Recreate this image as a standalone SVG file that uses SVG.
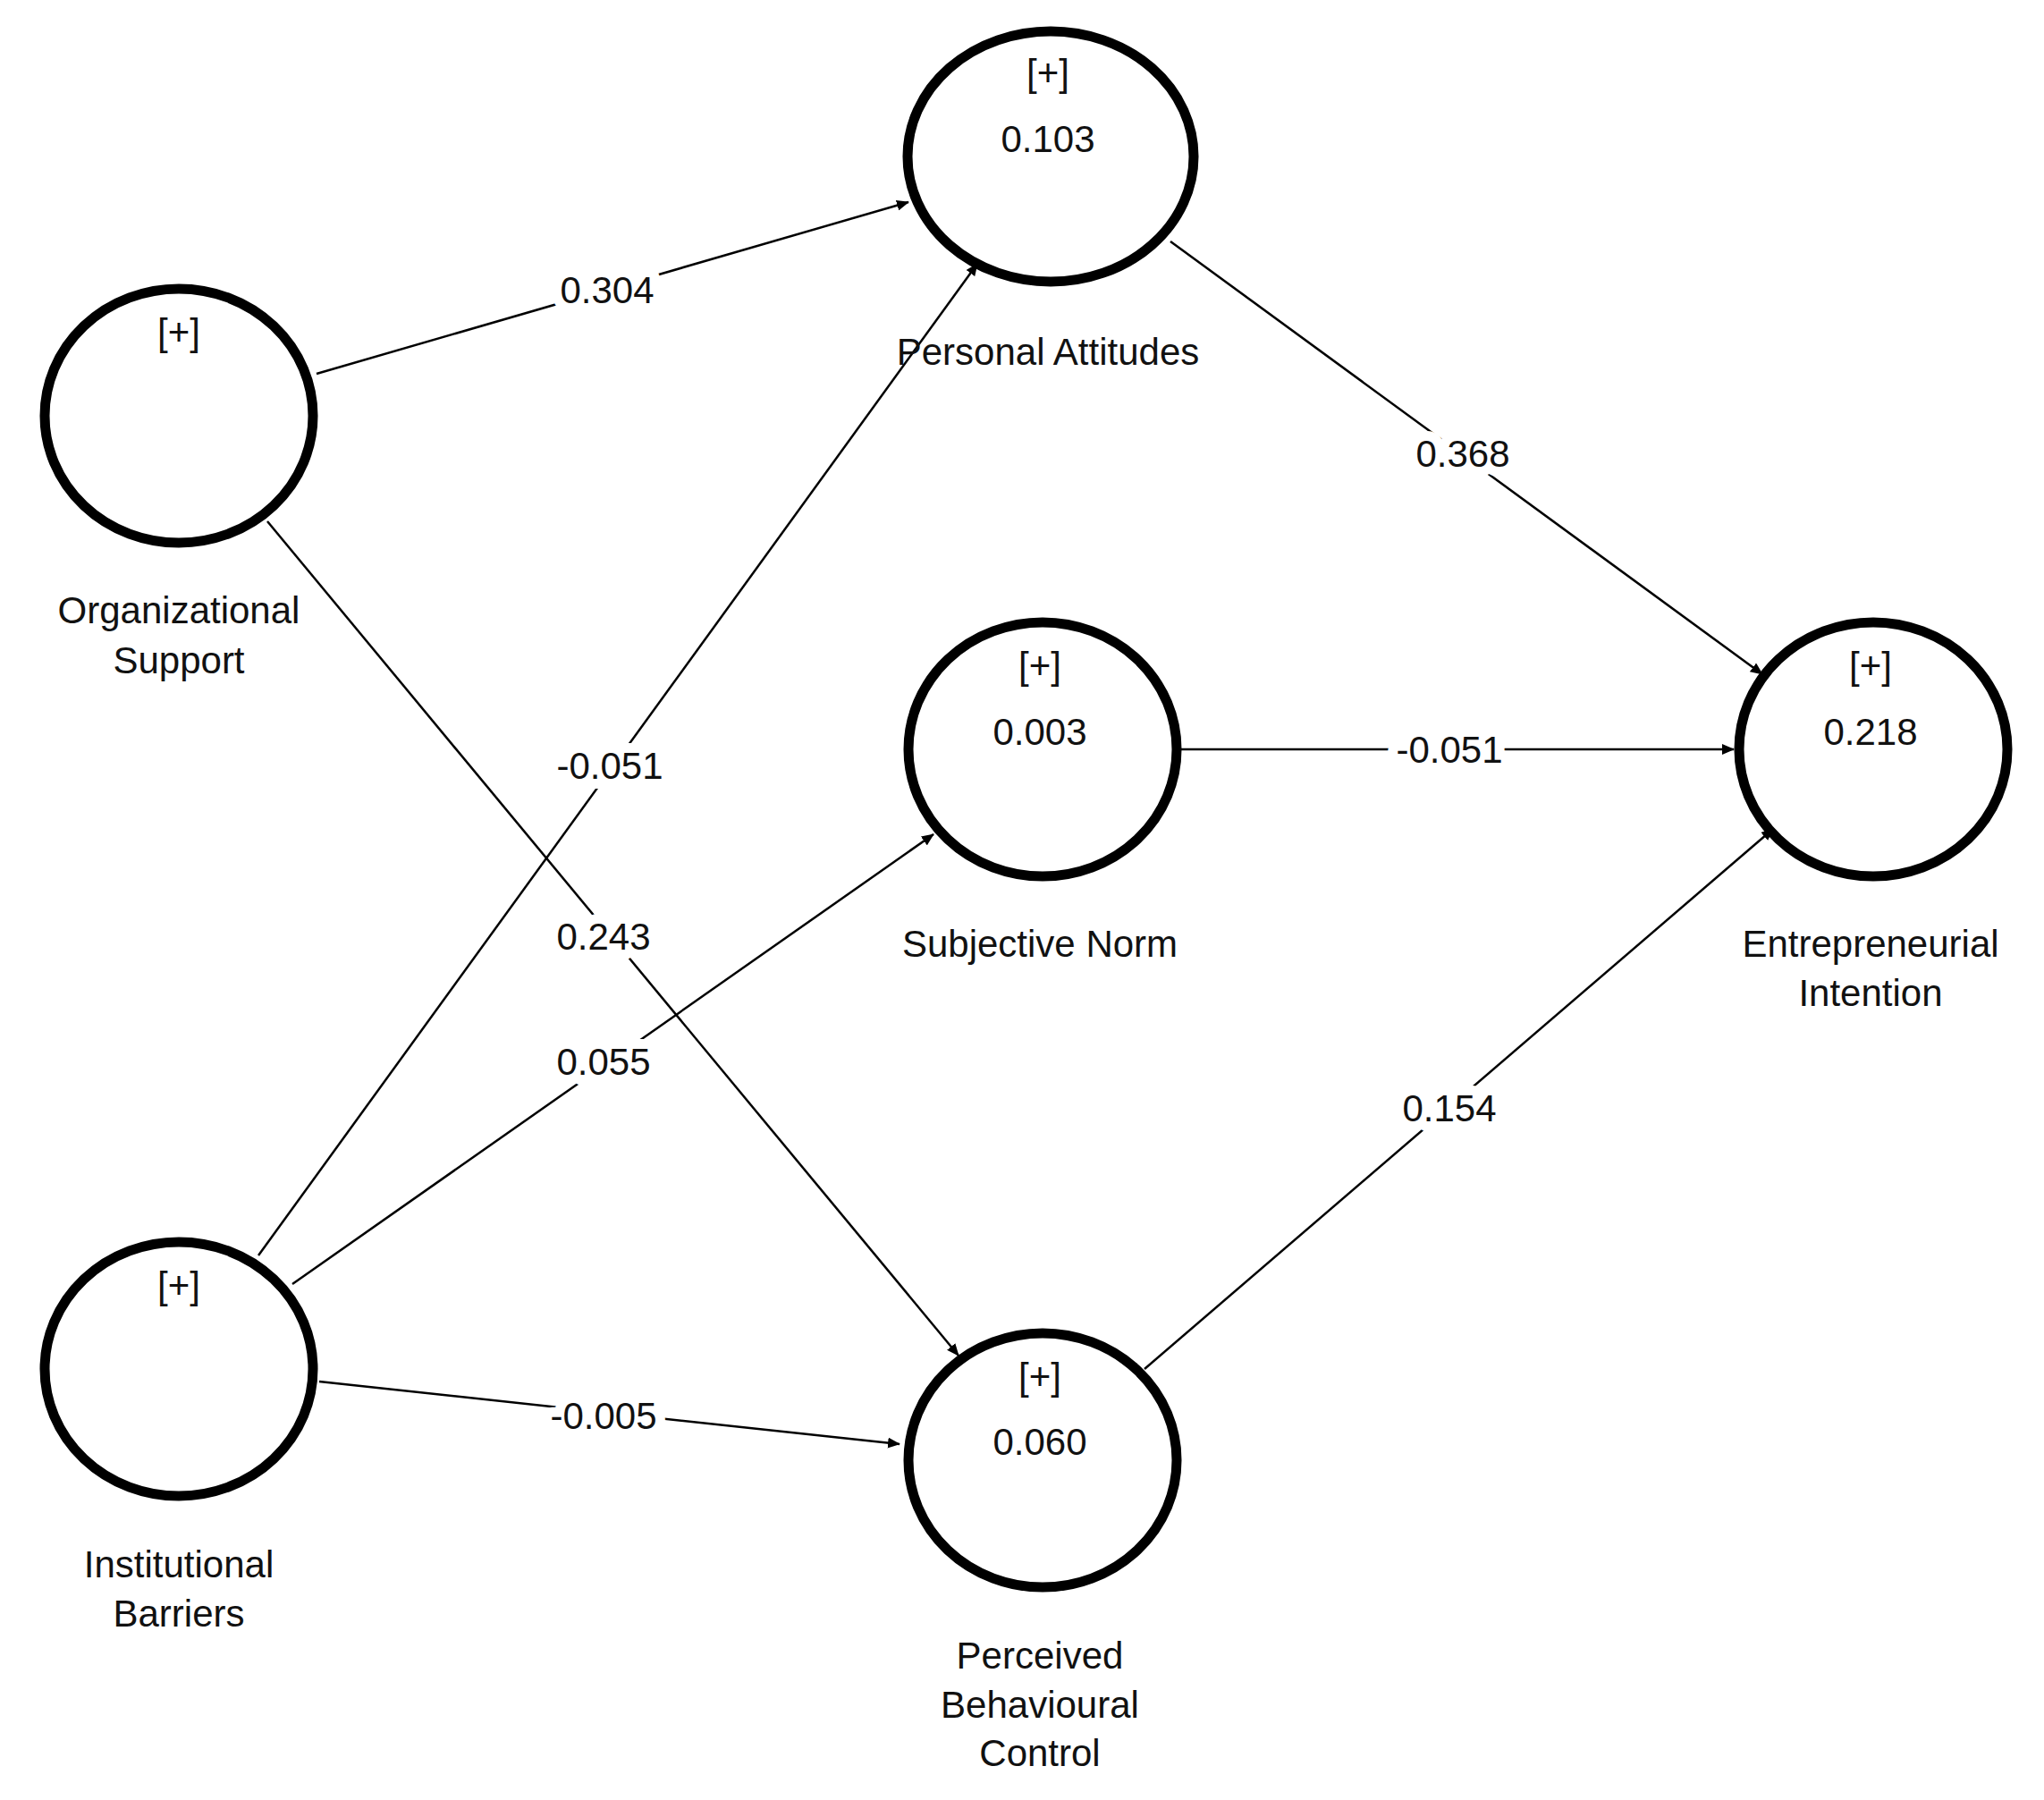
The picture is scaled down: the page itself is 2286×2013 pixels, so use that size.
<svg xmlns="http://www.w3.org/2000/svg" width="2286" height="2013" viewBox="0 0 2286 2013">
<defs>
<marker id="ah" markerWidth="14" markerHeight="12" refX="13" refY="6" orient="auto" markerUnits="userSpaceOnUse" viewBox="0 0 14 12"><path d="M0,0 L14,6 L0,12 z" fill="#000"/></marker>
<style>
text{font-family:"Liberation Sans",Arial,sans-serif;font-size:42px;fill:#111;text-anchor:middle}
.n{fill:#fff;stroke:#000;stroke-width:11}
.e{stroke:#000;stroke-width:2.5;fill:none;marker-end:url(#ah)}
.lb{paint-order:stroke;stroke:#fff;stroke-width:22px;stroke-linejoin:round}
</style>
</defs>
<rect width="2286" height="2013" fill="#fff"/>
<g id="connectors">
<line class="e" x1="354" y1="418" x2="1016" y2="226" style="stroke-width:2.5"/>
<line class="e" x1="299" y1="583" x2="1072" y2="1516"/>
<line class="e" x1="289" y1="1404" x2="1093" y2="295"/>
<line class="e" x1="327" y1="1436" x2="1044" y2="933"/>
<line class="e" x1="357" y1="1545" x2="1006" y2="1615"/>
<line class="e" x1="1309" y1="270" x2="1971" y2="754"/>
<line class="e" x1="1320" y1="838" x2="1939" y2="838"/>
<line class="e" x1="1280" y1="1531" x2="1983" y2="927"/>
<text class="lb" x="679" y="339">0.304</text>
<text class="lb" x="675" y="1062">0.243</text>
<text class="lb" x="682" y="871">-0.051</text>
<text class="lb" x="675" y="1202">0.055</text>
<text class="lb" x="675" y="1598">-0.005</text>
<text class="lb" x="1636" y="522">0.368</text>
<text class="lb" x="1621" y="853">-0.051</text>
<text class="lb" x="1621" y="1254">0.154</text>
</g>
<g id="os"><ellipse class="n" cx="200" cy="465" rx="150" ry="142"/><text x="200" y="386">[+]</text><text x="200" y="697">Organizational</text><text x="200" y="753">Support</text></g>
<g id="ib"><ellipse class="n" cx="200" cy="1531" rx="150" ry="142"/><text x="200" y="1452">[+]</text><text x="200" y="1764">Institutional</text><text x="200" y="1819">Barriers</text></g>
<g id="pa"><ellipse class="n" cx="1175" cy="175" rx="160" ry="140"/><text x="1172" y="96">[+]</text><text x="1172" y="170">0.103</text><text class="lb" x="1172" y="408" style="stroke-width:0">Personal Attitudes</text></g>
<g id="sn"><ellipse class="n" cx="1166" cy="838" rx="150" ry="142"/><text x="1163" y="759">[+]</text><text x="1163" y="833">0.003</text><text x="1163" y="1070">Subjective Norm</text></g>
<g id="pbc"><ellipse class="n" cx="1166" cy="1633" rx="150" ry="142"/><text x="1163" y="1554">[+]</text><text x="1163" y="1627">0.060</text><text x="1163" y="1866">Perceived</text><text x="1163" y="1921">Behavioural</text><text x="1163" y="1975">Control</text></g>
<g id="ei"><ellipse class="n" cx="2095" cy="838" rx="150" ry="142"/><text x="2092" y="759">[+]</text><text x="2092" y="833">0.218</text><text x="2092" y="1070">Entrepreneurial</text><text x="2092" y="1125">Intention</text></g>
</svg>
